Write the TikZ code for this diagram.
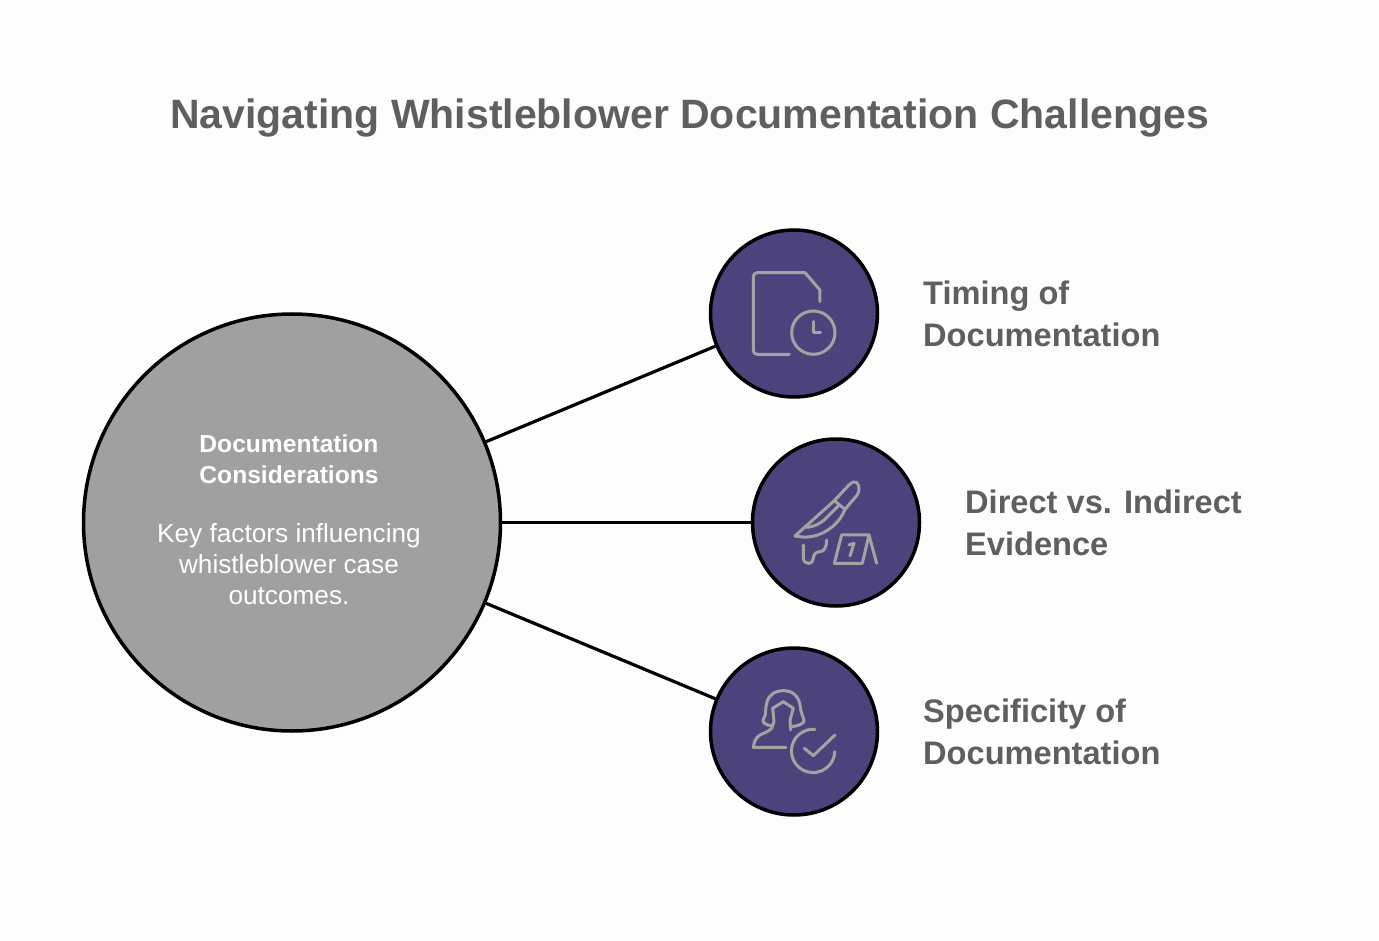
\documentclass[tikz,border=0pt]{standalone}
\usepackage{fontspec}
\setmainfont{Liberation Sans}
\usetikzlibrary{positioning}
\definecolor{bgc}{HTML}{FDFDFD}
\definecolor{inkc}{HTML}{5F5F5F}
\definecolor{hubc}{HTML}{A0A0A0}
\definecolor{discc}{HTML}{4D437C}
\definecolor{iconc}{HTML}{A3A3A3}
\tikzstyle{hub}=[circle, draw=black, fill=hubc, line width=3.5pt, inner sep=0pt, minimum size=417pt]
\tikzstyle{disc}=[circle, draw=black, fill=discc, line width=3.5pt, inner sep=0pt, minimum size=167pt]
\tikzstyle{caption}=[anchor=west, align=left, inner sep=0pt, text=inkc, font=\bfseries\fontsize{32.6}{42}\selectfont]
\tikzstyle{icon}=[draw=iconc, line width=3pt, line cap=round, line join=round]
\newcommand{\disc}{\node[disc]}
\newcommand{\capt}{\node[caption]}

\begin{document}
\begin{tikzpicture}[x=1pt, y=-1pt
  ,every edge/.style={draw, black, line width=3.2pt}
]
\useasboundingbox[fill=bgc] (0,0) rectangle (1379,941);
\node[text=inkc, font=\bfseries\fontsize{41}{48}\selectfont] (title) at (689.5,118) {Navigating Whistleblower Documentation Challenges};
\node[hub] (hub) at (292,522.5) {};
\disc (timing) at (794,313.5) {};
\disc (direct) at (836,522.5) {};
\disc (specific) at (794,731.5) {};
\path
(hub) edge (timing)
(hub) edge (direct)
(hub) edge (specific)
;
\node[text=white, align=center, font=\bfseries\fontsize{24.6}{31}\selectfont] (hubhead) at (289,459.5) {Documentation\\Considerations};
\node[text=white, align=center, font=\fontsize{26.2}{31}\selectfont] (hubtext) at (289,564) {Key factors influencing\\whistleblower case\\outcomes.};
\capt (timingcap) at (923,314) {Timing of\\Documentation};
\capt (directcap) at (965,523) {Direct vs. Indirect\\Evidence};
\capt (specificcap) at (923,732) {Specificity of\\Documentation};
% document with clock
\begin{scope}[shift={(700,220)}, x=.3333pt, y=-.3333pt, icon]
\draw (360,245) -- (360,210) -- (315,158) -- (172,158) .. controls (165,158) and (160,163) .. (160,170) -- (160,392) .. controls (160,399) and (165,403) .. (172,403) -- (268,403);
\draw (340,338) circle (65);
\draw (340,305) -- (340,338) -- (362,338);
\end{scope}
% knife and marker
\begin{scope}[shift={(745,430)}, x=.3333pt, y=-.3333pt, icon]
\draw (150,318) -- (268,212) -- (310,167) .. controls (320,155) and (335,150) .. (340,165) .. controls (345,178) and (340,190) .. (335,197) -- (300,238) -- (268,212);
\draw (300,238) .. controls (285,275) and (260,295) .. (235,308) .. controls (210,320) and (185,325) .. (150,318);
\draw (185,292) .. controls (210,290) and (225,280) .. (240,268) -- (283,225);
\draw (175,345) -- (175,382) .. controls (175,395) and (182,400) .. (190,400) .. controls (200,400) and (205,392) .. (205,385) .. controls (205,372) and (215,365) .. (225,365) .. controls (238,365) and (245,350) .. (245,330);
\draw (290,315) -- (372,315) -- (352,400) -- (268,400) -- cycle;
\draw (372,315) -- (395,400);
\draw (312,345) -- (327,340) -- (315,378);
\end{scope}
% person with check
\begin{scope}[shift={(700,640)}, x=.3333pt, y=-.3333pt, icon]
\draw (215,258) .. controls (195,255) and (185,245) .. (190,238) .. controls (200,225) and (195,205) .. (200,190) .. controls (205,165) and (225,152) .. (250,152) .. controls (275,152) and (295,165) .. (300,195) .. controls (302,215) and (308,228) .. (312,240) .. controls (315,250) and (295,258) .. (275,260);
\draw (218,205) -- (250,185) -- (280,205) -- (270,240) -- (272,270);
\draw (218,205) -- (222,245) -- (215,265) .. controls (205,275) and (190,280) .. (180,285) .. controls (168,292) and (162,305) .. (160,322) -- (258,322);
\draw (345,268) arc[start angle=-85, end angle=-358, radius=65];
\draw (313,325) -- (340,347) -- (405,285);
\end{scope}
\end{tikzpicture}
\end{document}
